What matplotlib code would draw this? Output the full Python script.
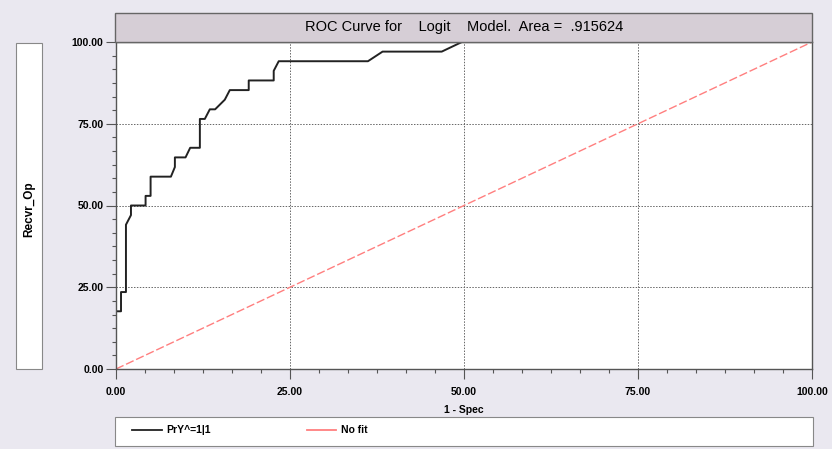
import matplotlib.pyplot as plt
from matplotlib.patches import Rectangle
from matplotlib.ticker import MultipleLocator

# ROC curve (1 - Spec, Recvr_Op), in percent
spec_1 = [0.0, 0.0, 0.72, 0.72, 1.43, 1.43, 2.15, 2.15, 4.25, 4.25, 4.97, 4.97,
          7.89, 8.46, 8.46, 9.99, 10.66, 12.05, 12.05, 12.76, 13.48, 14.24,
          15.63, 16.35, 19.07, 19.07, 22.66, 22.66, 23.38, 36.2, 38.3, 46.8,
          49.7, 100.0]
recvr = [0.0, 17.65, 17.65, 23.53, 23.53, 44.12, 47.06, 50.0, 50.0, 52.94,
         52.94, 58.82, 58.82, 61.76, 64.71, 64.71, 67.65, 67.65, 76.47, 76.47,
         79.41, 79.41, 82.35, 85.29, 85.29, 88.24, 88.24, 91.18, 94.12, 94.12,
         97.06, 97.06, 100.0, 100.0]
nofit_x = [0, 100]
nofit_y = [0, 100]
ticks = [0, 25, 50, 75, 100]
tick_labels = ['0.00', '25.00', '50.00', '75.00', '100.00']

plt.rcParams['font.family'] = ['Liberation Sans', 'DejaVu Sans']

bg = '#eae8f0'
fig = plt.figure(figsize=(8.32, 4.49), dpi=100, facecolor=bg)
ax = fig.add_axes([116/832, 1 - 369/449, 696/832, 327/449])

ax.plot(spec_1, recvr, color='#222222', lw=1.4, label='PrY^=1|1')
ax.plot(nofit_x, nofit_y, color='#ff7f7f', lw=1.0, dashes=(6, 2), label='No fit')

ax.set_xlim(0, 100)
ax.set_ylim(0, 100)
ax.set_xticks(ticks)
ax.set_xticklabels(tick_labels)
ax.set_yticks(ticks)
ax.set_yticklabels(tick_labels)
ax.xaxis.set_minor_locator(MultipleLocator(25 / 6))
ax.yaxis.set_minor_locator(MultipleLocator(25 / 6))
ax.tick_params(which='major', length=7, width=0.8, color='#555555',
               labelsize=7.5)
ax.tick_params(axis='x', which='major', pad=6)
ax.tick_params(axis='y', which='major', pad=2)
ax.tick_params(which='minor', length=3, width=0.8, color='#555555')
for lab in ax.get_xticklabels() + ax.get_yticklabels():
    lab.set_fontweight('bold')
ax.grid(True, which='major', color='#666666', ls=(0, (1.5, 1.5)), lw=0.7)
for s in ax.spines.values():
    s.set_color('#555555')
    s.set_linewidth(1.0)
ax.set_xlabel('1 - Spec', fontsize=7.5, fontweight='bold', labelpad=6)

# title bar
fig.patches.append(Rectangle((115/832, 1 - 42/449), 697/832, 29/449,
                             transform=fig.transFigure, facecolor='#d6ced6',
                             edgecolor='#666666', lw=1.0))
fig.text(464/832, 1 - 27/449, 'ROC Curve for    Logit    Model.  Area =  .915624',
         ha='center', va='center', fontsize=10.5)

# y label box
fig.patches.append(Rectangle((16/832, 1 - 369/449), 26/832, 326/449,
                             transform=fig.transFigure, facecolor='white',
                             edgecolor='#888888', lw=0.8))
fig.text(29/832, 1 - 209/449, 'Recvr_Op', rotation=90, ha='center', va='center',
         fontsize=8.5, fontweight='bold')

# legend box
fig.patches.append(Rectangle((115/832, 1 - 446/449), 698/832, 29/449,
                             transform=fig.transFigure, facecolor='white',
                             edgecolor='#888888', lw=0.8))
leg_y = 1 - 430/449
fig.add_artist(plt.Line2D([132/832, 162/832], [leg_y, leg_y], color='#222222',
                          lw=1.3, transform=fig.transFigure))
fig.text(166/832, leg_y, 'PrY^=1|1', ha='left', va='center', fontsize=7.5,
         fontweight='bold')
fig.add_artist(plt.Line2D([307/832, 336/832], [leg_y, leg_y], color='#ff7f7f',
                          lw=1.3, transform=fig.transFigure))
fig.text(341/832, leg_y, 'No fit', ha='left', va='center', fontsize=7.5,
         fontweight='bold')

fig.savefig('out.png', dpi=100, facecolor=bg)
